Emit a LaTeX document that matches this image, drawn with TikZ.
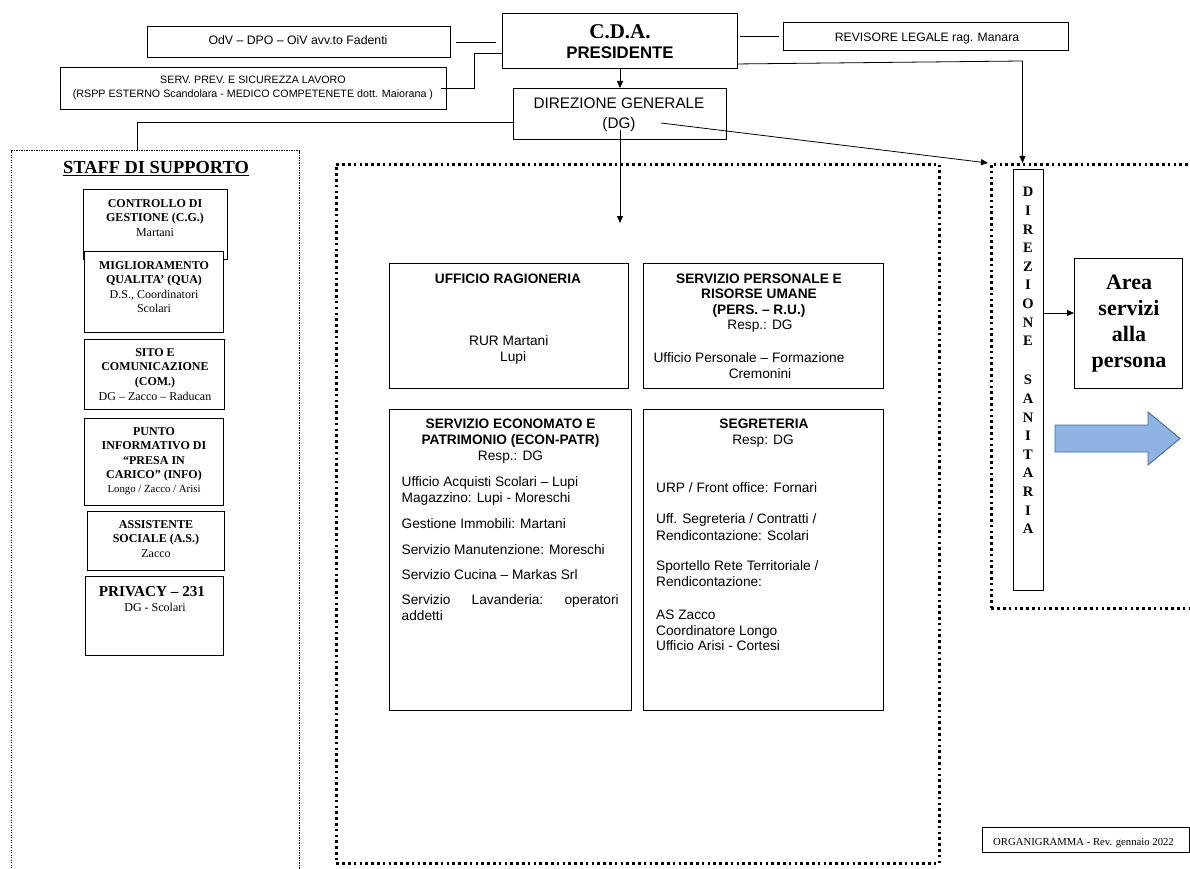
\documentclass[tikz,border=0pt]{standalone}
\usepackage{fontspec}
\setmainfont{Liberation Serif}
\newfontfamily\arial{Liberation Sans}
\usetikzlibrary{arrows.meta,calc}
\definecolor{blueA}{RGB}{141,180,226}
\definecolor{blueB}{RGB}{66,104,152}
\newcommand\tlines[6]{\foreach \tx [count=\ii] in {#6} {\node[anchor=base,inner sep=0,#5] (#1-\ii) at (#2,{#3+(\ii-1)*#4}) {\tx};}}
\tikzset{
  box/.style={draw, line width=1pt, inner sep=0, anchor=north west, fill=white},
  dotbig/.style={draw, line width=2.6pt, dash pattern=on 2.6pt off 3.2pt, inner sep=0, anchor=north west},
  dotsmall/.style={draw, line width=1.3pt, dash pattern=on 1.3pt off 1.2pt, inner sep=0, anchor=north west},
  conn/.style={line width=0.8pt},
  arr/.style={line width=0.8pt, -{Triangle[length=7pt,width=6pt]}},
  ar/.style={font=\arial\fontsize{13.7}{16}\selectfont},
  arb/.style={font=\arial\bfseries\fontsize{13.7}{16}\selectfont},
  tb/.style={font=\bfseries\fontsize{12}{14}\selectfont},
  tr/.style={font=\fontsize{12}{14}\selectfont},
}
\begin{document}
\begin{tikzpicture}[x=1pt,y=-1pt]
\useasboundingbox (0,0) rectangle (1190,869);
% containers
\node[dotsmall, minimum width=288pt, minimum height=740pt] (staff) at (11,150) {};
\node[dotbig, minimum width=603pt, minimum height=699pt] (central) at (335,163) {};
\node[dotbig, minimum width=230pt, minimum height=444pt] (dsarea) at (990,163) {};
% top boxes
\node[box, minimum width=303pt, minimum height=31pt] (odv) at (147,26) {};
\node[box, minimum width=386pt, minimum height=42pt] (sp) at (60,67) {};
\node[box, minimum width=235pt, minimum height=55pt] (cda) at (502,13) {};
\node[box, minimum width=285pt, minimum height=28pt] (rev) at (783,22) {};
\node[box, minimum width=213pt, minimum height=51pt] (dg) at (513,88) {};
% staff boxes
\node[box, minimum width=144pt, minimum height=70pt] (cg) at (83,189) {};
\node[box, minimum width=139pt, minimum height=81pt] (mq) at (84,251) {};
\node[box, minimum width=140pt, minimum height=70pt] (sito) at (84,339) {};
\node[box, minimum width=139pt, minimum height=87pt] (punto) at (84,418) {};
\node[box, minimum width=137pt, minimum height=59pt] (asso) at (87,511) {};
\node[box, minimum width=138pt, minimum height=79pt] (priv) at (85,576) {};
% central boxes
\node[box, minimum width=239pt, minimum height=125pt] (rag) at (389,263) {};
\node[box, minimum width=240pt, minimum height=125pt] (pers) at (643,263) {};
\node[box, minimum width=242pt, minimum height=301pt] (eco) at (389,409) {};
\node[box, minimum width=240pt, minimum height=301pt] (seg) at (643,409) {};
% right area
\node[box, minimum width=30pt, minimum height=421pt] (ds) at (1013,169) {};
\node[box, minimum width=108pt, minimum height=130pt] (area) at (1074,258) {};
\node[box, minimum width=207pt, minimum height=25pt] (org) at (982,827) {};
% blue arrow
\draw[fill=blueA, draw=blueB, line width=0.9pt] (1055,425)--(1148,425)--(1148,412)--(1180,438.5)--(1148,465)--(1148,452)--(1055,452)--cycle;
% texts top
\node[anchor=base, inner sep=0, font=\arial\fontsize{12.3}{14}\selectfont] (odv-t) at (298,44.4) {OdV – DPO – OiV avv.to Fadenti};
\tlines{sp-t}{253}{84}{14}{font=\arial\fontsize{10.7}{13}\selectfont}{{SERV. PREV. E SICUREZZA LAVORO},{(RSPP ESTERNO Scandolara - MEDICO COMPETENETE dott. Maiorana )}}
\node[anchor=base, inner sep=0, font=\bfseries\fontsize{21}{24}\selectfont] (cda-t1) at (620,39) {C.D.A.};
\node[anchor=base, inner sep=0, font=\arial\bfseries\fontsize{16.8}{19}\selectfont] (cda-t2) at (620,59) {PRESIDENTE};
\node[anchor=base, inner sep=0, font=\arial\fontsize{12.2}{14}\selectfont] (rev-t) at (927,41.4) {REVISORE LEGALE rag. Manara};
\tlines{dg-t}{619}{108.5}{20}{font=\arial\fontsize{15.3}{18}\selectfont}{DIREZIONE GENERALE,(DG)}
% staff texts
\node[anchor=base, inner sep=0, font=\bfseries\fontsize{18.4}{21}\selectfont] (staff-t) at (156,174) {\underline{STAFF DI SUPPORTO}};
\tlines{cg-b}{155}{207}{14.5}{tb}{CONTROLLO DI,GESTIONE (C.G.)}
\tlines{cg-r}{155}{236}{14.5}{tr}{Martani}
\tlines{mq-b}{154}{269}{14.5}{tb}{MIGLIORAMENTO,QUALITA’ (QUA)}
\tlines{mq-r}{154}{298}{14.5}{tr}{{D.S., Coordinatori},Scolari}
\tlines{sito-b}{155}{356}{14.5}{tb}{SITO E,COMUNICAZIONE,(COM.)}
\tlines{sito-r}{155}{400}{14.5}{tr}{DG – Zacco – Raducan}
\tlines{punto-b}{154}{435}{14.5}{tb}{PUNTO,INFORMATIVO DI,“PRESA IN,CARICO” (INFO)}
\tlines{punto-r}{154}{492}{14.5}{font=\fontsize{10.8}{13}\selectfont}{Longo / Zacco / Arisi}
\tlines{asso-b}{156}{528}{14.5}{tb}{ASSISTENTE,SOCIALE (A.S.)}
\tlines{asso-r}{156}{557}{14.5}{tr}{Zacco}
\node[anchor=base, inner sep=0, font=\bfseries\fontsize{15.2}{18}\selectfont] (priv-b) at (152,596) {PRIVACY – 231};
\tlines{priv-r}{155}{611}{14.5}{tr}{DG - Scolari}
% central texts
\tlines{rag-b}{508}{283}{16}{arb}{UFFICIO RAGIONERIA}
\node[anchor=base west, inner sep=0, ar] (rag-r1) at (469,345) {RUR Martani};
\node[anchor=base west, inner sep=0, ar] (rag-r2) at (500,361) {Lupi};
\tlines{pers-b}{759}{283}{15.5}{arb}{SERVIZIO PERSONALE E,RISORSE UMANE,(PERS. – R.U.)}
\tlines{pers-r}{760}{329.5}{15.5}{ar}{Resp.: DG}
\node[anchor=base, inner sep=0, ar] (pers-r2) at (749,362) {Ufficio Personale – Formazione};
\node[anchor=base, inner sep=0, ar] (pers-r3) at (760,378) {Cremonini};
\tlines{eco-b}{510.5}{428.2}{16.3}{arb}{SERVIZIO ECONOMATO E,PATRIMONIO (ECON-PATR)}
\tlines{eco-r}{510.5}{460.9}{16}{ar}{Resp.: DG}
\tlines{eco-a}{401.5}{486.6}{15.6}{ar,anchor=base west}{Ufficio Acquisti Scolari – Lupi,Magazzino: Lupi - Moreschi}
\tlines{eco-c}{401.5}{528.2}{25.8}{ar,anchor=base west}{Gestione Immobili: Martani,Servizio Manutenzione: Moreschi,Servizio Cucina – Markas Srl}
\node[anchor=base west, inner sep=0, ar] (eco-lav) at (401.5,604.2) {\hbox to 217pt{Servizio\hfill Lavanderia:\hfill operatori}};
\node[anchor=base west, inner sep=0, ar] (eco-add) at (401.5,620.9) {addetti};
\tlines{seg-b}{764}{428.2}{16}{arb}{SEGRETERIA}
\tlines{seg-r}{763}{444.2}{16}{ar}{Resp: DG}
\node[anchor=base west, inner sep=0, ar] (seg-1) at (656,492.2) {URP / Front office: Fornari};
\tlines{seg-u}{656}{523.9}{16.5}{ar,anchor=base west}{Uff. Segreteria / Contratti /,Rendicontazione: Scolari}
\tlines{seg-s}{656}{570.9}{16}{ar,anchor=base west}{Sportello Rete Territoriale /,Rendicontazione:}
\tlines{seg-a}{656}{619.9}{15.5}{ar,anchor=base west}{AS Zacco,Coordinatore Longo,Ufficio Arisi - Cortesi}
% right texts
\tlines{ds-a}{1028}{196.8}{18.6}{font=\bfseries\fontsize{14.5}{17}\selectfont}{D,I,R,E,Z,I,O,N,E}
\tlines{ds-b}{1028}{384.8}{18.6}{font=\bfseries\fontsize{14.5}{17}\selectfont}{S,A,N,I,T,A,R,I,A}
\tlines{area-t}{1129}{289}{26.3}{font=\bfseries\fontsize{22}{26}\selectfont}{Area,servizi,alla,persona}
\node[anchor=base west, inner sep=0, font=\fontsize{10.7}{13}\selectfont] (org-t) at (993,845) {ORGANIGRAMMA - Rev. gennaio 2022};
% connectors
\draw[conn] ([xshift=5pt]odv.east) -- ([xshift=-6pt]odv.east -| cda.west);
\draw[conn] ([xshift=2pt]rev.west -| cda.east) -- ([xshift=-4pt]rev.west);
\coordinate (cdaSP) at ($(cda.north west)!0.73!(cda.south west)$);
\draw[conn] ([xshift=-6pt]sp.east) -| ($(sp.east -| cdaSP)!0.5!(sp.east)$) |- (cdaSP);
\draw[arr] (cda.south) -- (dg.north);
\coordinate (staffTop) at ($(staff.north west)+(126,0)$);
\draw[conn] ($(dg.north west)!0.67!(dg.south west)$) -| (staffTop);
\draw[arr] ($(dg.south)+(0,-10)$) -- ++(0,93);
\draw[arr] ($(dg.south)+(41,-17)$) -- ([xshift=-2pt]dsarea.north west);
\coordinate (cdaR) at ($(cda.north east)!0.91!(cda.south east)$);
\coordinate (dsBend) at ($(ds.north)+(-6,-108)$);
\draw[arr] (cdaR) -- (dsBend) -- (dsBend |- dsarea.north);
\coordinate (dsA) at ($(ds.north east)+(0,144)$);
\draw[arr] (dsA) -- (dsA -| area.west);
\end{tikzpicture}
\end{document}
